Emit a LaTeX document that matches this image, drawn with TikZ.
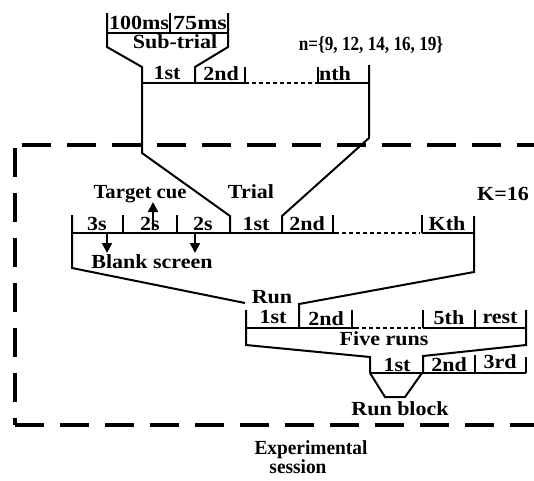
\documentclass[tikz,border=0pt]{standalone}
\usepackage{fontspec}
\setmainfont{Liberation Serif}
\usetikzlibrary{arrows.meta}
\begin{document}
\begin{tikzpicture}[x=1pt,y=-1pt,line width=2pt,
  lbl/.style={font=\bfseries\fontsize{20}{22}\selectfont,inner sep=0pt,anchor=base,xscale=1.1},
  dashbox/.style={line width=3.5pt,dash pattern=on 29pt off 16pt},
  dotline/.style={dash pattern=on 4pt off 3pt},
  arr/.style={-{Triangle[width=10pt,length=10pt]}}]
\useasboundingbox (0,0) rectangle (534,480);
% dashed experimental session frame
\draw[dashbox] (22,145) -- (545,145);
\draw[dashbox] (15,148) -- (15,425);
\draw[dashbox] (15,425) -- (545,425);
% sub-trial box
\draw (107,13) -- (107,47) -- (142,67) -- (142,153) -- (230,216) -- (230,233);
\draw (228,13) -- (228,47) -- (195,67) -- (195,83);
\draw (107,33) -- (228,33);
\draw (170,13) -- (170,33);
\node[lbl,xscale=1.0] (t100) at (139,29) {100ms};
\node[lbl,xscale=1.1] (t75) at (200,29) {75ms};
\node[lbl] (tsub) at (175,48) {Sub-trial};
\node[lbl,xscale=0.78] (tn) at (371,50) {n=\{9, 12, 14, 16, 19\}};
% sub-trial row
\draw (142,83) -- (245,83);
\draw[dotline] (245,83) -- (318,83);
\draw (318,83) -- (369,83);
\draw (245,67) -- (245,83);
\draw (318,67) -- (318,83);
\draw (369,65) -- (369,138) -- (282,216) -- (282,233);
\node[lbl] (s1) at (167,79) {1st};
\node[lbl] (s2) at (221,80) {2nd};
\node[lbl] (sn) at (335,80) {nth};
% trial row
\node[lbl,xscale=0.94] (tcue) at (140,198) {Target cue};
\node[lbl] (ttrial) at (251,198) {Trial};
\node[lbl,xscale=1.0] (tk) at (503,200) {K=16};
\draw (72,233) -- (335,233);
\draw[dotline] (335,233) -- (420,233);
\draw (422,233) -- (474,233);
\draw (72,215) -- (72,268) -- (245,303);
\draw (474,216) -- (474,272) -- (299,304) -- (299,328);
\foreach \x in {123,177,333,422} \draw (\x,215) -- (\x,233);
\node[lbl] (r3s) at (97,230) {3s};
\node[lbl] (r2a) at (150,230) {2s};
\node[lbl] (r2b) at (203,230) {2s};
\node[lbl] (r1) at (256,230) {1st};
\node[lbl] (r2) at (307,230) {2nd};
\node[lbl] (rk) at (447,230) {Kth};
\draw[arr] (153,229) -- (153,202);
\draw[arr] (107,233) -- (107,253);
\draw[arr] (195,233) -- (195,253);
\node[lbl] (tblank) at (152,268) {Blank screen};
% runs row
\node[lbl] (trun) at (272,303) {Run};
\draw (246,328) -- (355,328);
\draw[dotline] (355,328) -- (421,328);
\draw (423,328) -- (526,328);
\draw (246,310) -- (246,345) -- (370,357) -- (370,373);
\draw (526,310) -- (526,345) -- (423,356) -- (423,373);
\foreach \x in {352,423,475} \draw (\x,310) -- (\x,328);
\node[lbl] (u1) at (273,323) {1st};
\node[lbl] (u2) at (326,325) {2nd};
\node[lbl] (u5) at (449,324) {5th};
\node[lbl] (ur) at (500,323) {rest};
\node[lbl] (tfive) at (384,345) {Five runs};
% run block row
\draw (370,373) -- (526,373);
\draw (475,355) -- (475,373);
\draw (526,357) -- (526,373);
\draw (370,373) -- (385,397) -- (405,397) -- (422,373);
\node[lbl] (b1) at (397,371) {1st};
\node[lbl] (b2) at (449,371) {2nd};
\node[lbl] (b3) at (500,368) {3rd};
\node[lbl] (tblock) at (400,415) {Run block};
% session label
\node[lbl,xscale=0.88] (texp) at (311,454) {Experimental};
\node[lbl,xscale=0.88] (tsess) at (298,473) {session};
\end{tikzpicture}
\end{document}
